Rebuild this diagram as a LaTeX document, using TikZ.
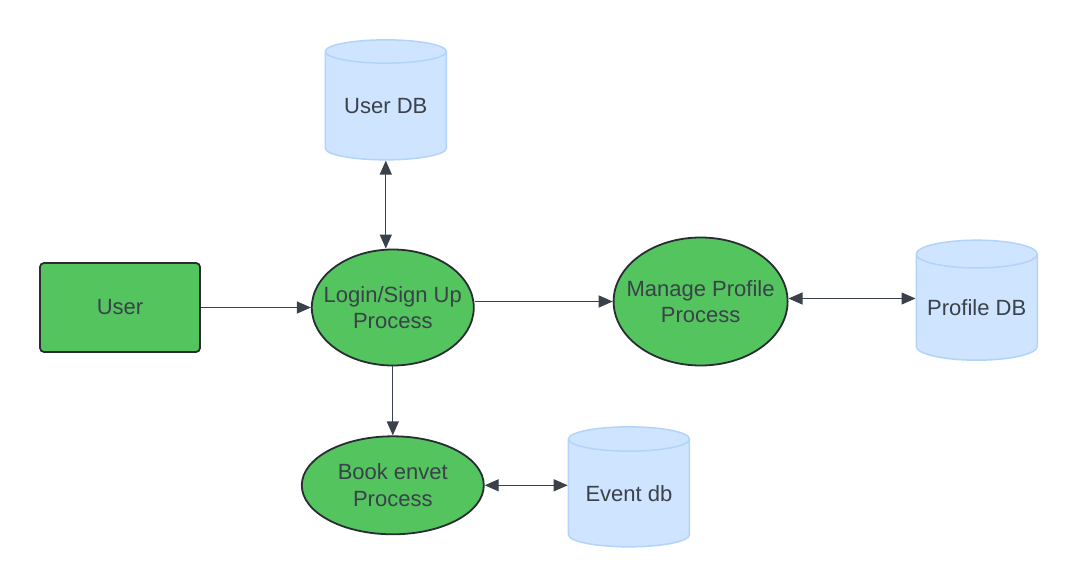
\documentclass[tikz,border=0pt]{standalone}
\usepackage{fontspec}
\setmainfont{Liberation Sans}
\usepackage{xcolor}
\usetikzlibrary{shapes.geometric, arrows.meta, positioning}
\definecolor{procgreen}{HTML}{54C45E}
\definecolor{dbfill}{HTML}{CFE4FF}
\definecolor{dbline}{HTML}{B3D3FB}
\definecolor{inkgray}{HTML}{3A414A}
\definecolor{edgegray}{HTML}{282C33}
\tikzset{
  flow/.style={align=center, text=inkgray, font=\fontsize{22}{26.5}\selectfont, inner sep=0pt},
  entity/.style={flow, draw=edgegray, line width=1.8pt, fill=procgreen, rounded corners=4pt, minimum width=160pt, minimum height=89pt},
  process/.style={flow, ellipse, draw=edgegray, line width=1.8pt, fill=procgreen, inner xsep=-14pt},
  store/.style={flow, cylinder, shape border rotate=90, aspect=0.28, draw=dbline, line width=1.5pt, fill=dbfill, minimum width=121pt, minimum height=120pt},
  arrow/.style={-{Triangle[length=14pt, width=12pt]}, line width=1.2pt, draw=inkgray},
  twoway/.style={arrow, {Triangle[length=14pt, width=12pt]}-{Triangle[length=14pt, width=12pt]}}
}

\begin{document}
\begin{tikzpicture}[x=1pt, y=-1pt]
  \useasboundingbox (0,0) rectangle (1076,585);
  % Nodes
  \node[entity] (user) at (120,307.5) {User};
  \node[process, right=110pt of user, minimum width=162pt, minimum height=116pt] (login) {Login/Sign Up\\Process};
  \node[store, above=88pt of login, xshift=-7pt] (userdb) {User DB};
  \node[process, below=69pt of login, minimum width=182pt, minimum height=98pt] (book) {Book envet\\Process};
  \node[store, right=83pt of book, yshift=-8pt] (eventdb) {Event db};
  \node[process, right=138pt of login, yshift=6pt, minimum width=174pt, minimum height=128pt] (manage) {Manage Profile\\Process};
  \node[store, right=127pt of manage, yshift=-6pt] (profiledb) {Profile DB};

  % Arrows
  \draw[arrow] (user.east) -- (login.west);
  \draw[twoway] (userdb.south) -- (userdb.south |- login.north);
  \draw[arrow] (manage.west -| login.east) -- (manage.west);
  \draw[arrow] (login.south) -- (book.north);
  \draw[twoway] ([yshift=3pt]manage.east) -- ([yshift=3pt]manage.east -| profiledb.west);
  \draw[twoway] (book.east) -- (book.east -| eventdb.west);
\end{tikzpicture}
\end{document}
